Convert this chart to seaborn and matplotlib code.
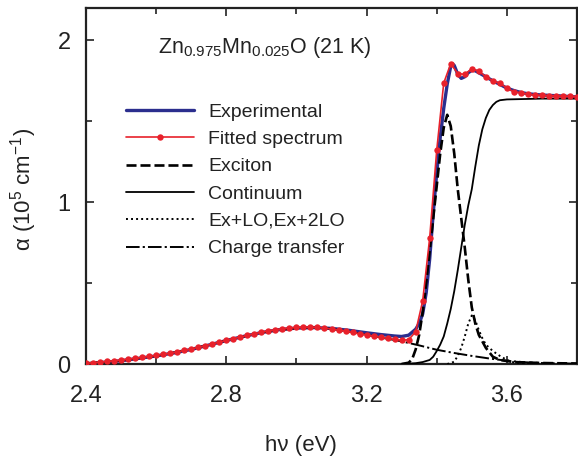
import numpy as np
import pandas as pd
import matplotlib
matplotlib.use("Agg")
import matplotlib.pyplot as plt
import seaborn as sns

# Photon energy grid of the fitted spectrum (eV), 0.02 eV steps
fit_energy = np.round(np.linspace(2.40, 3.80, 71), 2)
fit_alpha = [
    0.005, 0.008, 0.012, 0.016, 0.020, 0.025, 0.030, 0.035, 0.041, 0.047,
    0.053, 0.060, 0.067, 0.075, 0.084, 0.093, 0.103, 0.113, 0.124, 0.135,
    0.146, 0.157, 0.167, 0.177, 0.187, 0.197, 0.205, 0.212, 0.218, 0.223,
    0.226, 0.228, 0.228, 0.226, 0.222, 0.217, 0.210, 0.203, 0.195, 0.187,
    0.180, 0.172, 0.165, 0.158, 0.152, 0.147, 0.150, 0.200, 0.390, 0.780,
    1.320, 1.736, 1.856, 1.795, 1.790, 1.825, 1.810, 1.775, 1.750, 1.735,
    1.705, 1.682, 1.676, 1.668, 1.662, 1.660, 1.659, 1.658, 1.656, 1.654,
    1.652,
]

# Measured absorption
exp_energy = [2.40, 2.45, 2.50, 2.55, 2.60, 2.65, 2.70, 2.75, 2.80, 2.85,
              2.90, 2.95, 3.00, 3.05, 3.10, 3.15, 3.20, 3.24, 3.28, 3.30,
              3.32, 3.34, 3.35, 3.36, 3.37, 3.38, 3.39, 3.40, 3.41, 3.42,
              3.43, 3.44, 3.445, 3.45, 3.46, 3.47, 3.48, 3.49, 3.50, 3.51,
              3.52, 3.54, 3.56, 3.58, 3.60, 3.62, 3.64, 3.66, 3.70, 3.75,
              3.80]
exp_alpha = [0.000, 0.010, 0.020, 0.035, 0.050, 0.068, 0.090, 0.117, 0.145, 0.171,
             0.194, 0.212, 0.222, 0.225, 0.220, 0.208, 0.193, 0.182, 0.173, 0.170,
             0.178, 0.215, 0.250, 0.310, 0.440, 0.650, 0.930, 1.180, 1.400, 1.580,
             1.730, 1.840, 1.855, 1.845, 1.790, 1.765, 1.775, 1.800, 1.815, 1.812,
             1.800, 1.775, 1.750, 1.728, 1.705, 1.690, 1.678, 1.670, 1.662, 1.657,
             1.650]

# Exciton component
exc_energy = [3.30, 3.32, 3.33, 3.34, 3.35, 3.36, 3.37, 3.38, 3.39, 3.40,
              3.41, 3.42, 3.43, 3.44, 3.45, 3.46, 3.47, 3.48, 3.49, 3.50,
              3.51, 3.52, 3.54, 3.56, 3.58, 3.62, 3.70, 3.80]
exc_alpha = [0.000, 0.008, 0.030, 0.090, 0.180, 0.320, 0.500, 0.700, 0.900, 1.100,
             1.300, 1.460, 1.540, 1.470, 1.300, 1.080, 0.900, 0.720, 0.520, 0.350,
             0.250, 0.180, 0.100, 0.045, 0.025, 0.012, 0.006, 0.003]

# Band-to-band continuum
cont_energy = [3.30, 3.34, 3.36, 3.38, 3.39, 3.40, 3.41, 3.42, 3.43, 3.44,
               3.45, 3.46, 3.47, 3.48, 3.49, 3.50, 3.51, 3.52, 3.53, 3.54,
               3.55, 3.56, 3.57, 3.58, 3.60, 3.70, 3.80]
cont_alpha = [0.000, 0.005, 0.012, 0.025, 0.045, 0.080, 0.120, 0.170, 0.250, 0.340,
              0.450, 0.580, 0.720, 0.860, 0.980, 1.080, 1.220, 1.350, 1.450, 1.520,
              1.570, 1.600, 1.620, 1.630, 1.635, 1.640, 1.640]

# Phonon replicas Ex+LO, Ex+2LO
lo_energy = [3.43, 3.44, 3.45, 3.46, 3.47, 3.48, 3.49, 3.50, 3.51, 3.52,
             3.53, 3.54, 3.55, 3.56, 3.57, 3.58, 3.60, 3.62, 3.65, 3.70]
lo_alpha = [0.000, 0.005, 0.015, 0.050, 0.100, 0.170, 0.250, 0.300, 0.270, 0.210,
            0.160, 0.120, 0.100, 0.080, 0.065, 0.050, 0.025, 0.010, 0.003, 0.000]

# Mn charge-transfer band
ct_energy = [2.40, 2.50, 2.60, 2.70, 2.80, 2.90, 3.00, 3.05, 3.10, 3.20,
             3.25, 3.30, 3.35, 3.40, 3.45, 3.50, 3.55, 3.60, 3.65, 3.70, 3.80]
ct_alpha = [0.006, 0.020, 0.050, 0.092, 0.145, 0.195, 0.222, 0.226, 0.218, 0.180,
            0.160, 0.140, 0.115, 0.088, 0.068, 0.050, 0.034, 0.020, 0.011, 0.006, 0.002]

x_ticks = [2.4, 2.8, 3.2, 3.6]
y_ticks = [0, 1, 2]

sns.set_style("ticks")
plt.rcParams["font.family"] = ["Liberation Sans", "DejaVu Sans"]
plt.rcParams["mathtext.fontset"] = "custom"
plt.rcParams["mathtext.rm"] = "Liberation Sans"
plt.rcParams["mathtext.it"] = "Liberation Sans:italic"
plt.rcParams["mathtext.default"] = "regular"

fig = plt.figure(figsize=(5.78, 4.61), dpi=100)
ax = fig.add_axes([86 / 578, 97 / 461, 491 / 578, 356 / 461])

blue = "#2b2e8e"
red = "#e8212b"
ink = "#222222"

sns.lineplot(x=exp_energy, y=exp_alpha, ax=ax, color=blue, lw=2.4,
             label="Experimental", sort=False, estimator=None, zorder=2)
sns.lineplot(x=exc_energy, y=exc_alpha, ax=ax, color="black", lw=1.9,
             linestyle=(0, (3.8, 1.5)), label="Exciton", sort=False,
             estimator=None, zorder=3)
sns.lineplot(x=cont_energy, y=cont_alpha, ax=ax, color="black", lw=1.3,
             label="Continuum", sort=False, estimator=None, zorder=3)
sns.lineplot(x=lo_energy, y=lo_alpha, ax=ax, color="black", lw=1.4,
             linestyle=(0, (1, 1.6)), label="Ex+LO,Ex+2LO", sort=False,
             estimator=None, zorder=3)
sns.lineplot(x=ct_energy, y=ct_alpha, ax=ax, color="black", lw=1.4,
             linestyle=(0, (7, 1.6, 1.1, 1.6)), label="Charge transfer",
             sort=False, estimator=None, zorder=3)
sns.lineplot(x=fit_energy, y=fit_alpha, ax=ax, color=red, lw=1.2,
             marker="o", markersize=4.6, markeredgewidth=0,
             label="Fitted spectrum", sort=False, estimator=None, zorder=4)

ax.set_xlim(2.4, 3.8)
ax.set_ylim(0, 2.2)
ax.set_xticks(x_ticks)
ax.set_xticks([2.6, 3.0, 3.4], minor=True)
ax.set_yticks(y_ticks)
ax.set_yticks([0.5, 1.5], minor=True)
ax.set_xticklabels([f"{v:.1f}" for v in x_ticks])
ax.set_yticklabels([str(v) for v in y_ticks])

ax.tick_params(which="both", direction="in", top=True, right=True,
               width=1.2, colors=ink, labelcolor=ink)
ax.tick_params(which="major", length=6, labelsize=17)
ax.tick_params(which="minor", length=4)
ax.tick_params(axis="x", which="major", pad=15)
ax.tick_params(axis="y", which="major", pad=11)
for sp in ax.spines.values():
    sp.set_linewidth(1.6)
    sp.set_color(ink)

ax.set_xlabel("h\u03bd (eV)", fontsize=16, color=ink)
ax.set_ylabel("\u03b1 (10$^{5}$ cm$^{-1}$)", fontsize=16, color=ink)
ax.xaxis.set_label_coords(0.437, -0.2)
ax.yaxis.set_label_coords(-0.095, 0.49)

ax.text(0.146, 0.89, "Zn$_{0.975}$Mn$_{0.025}$O (21 K)", transform=ax.transAxes,
        fontsize=15.5, color=ink, va="center", ha="left")

handles, labels = ax.get_legend_handles_labels()
order = ["Experimental", "Fitted spectrum", "Exciton", "Continuum",
         "Ex+LO,Ex+2LO", "Charge transfer"]
hmap = dict(zip(labels, handles))
ax.legend([hmap[k] for k in order], order, loc="upper left",
          bbox_to_anchor=(0.081, 0.733), frameon=False, fontsize=14,
          handlelength=3.5, handletextpad=0.75, labelspacing=0.5,
          borderpad=0, borderaxespad=0, numpoints=1,
          labelcolor=ink)

fig.savefig("out.png", dpi=100)
